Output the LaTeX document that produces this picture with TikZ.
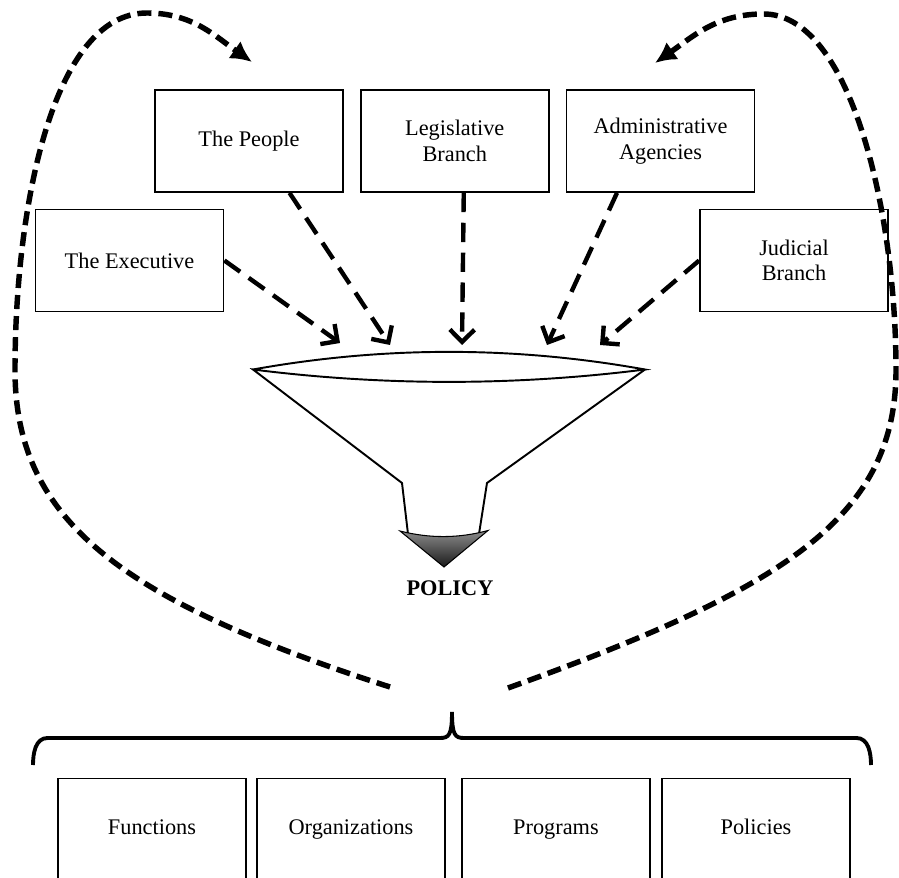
\documentclass[tikz,border=0pt]{standalone}
\usepackage{fontspec}
\setmainfont{Liberation Serif}
\usepackage{tikz}
\usetikzlibrary{positioning}
\usetikzlibrary{arrows.meta}

\begin{document}
\begin{tikzpicture}[font=\fontsize{12.7}{14.5}\selectfont]
	\tikzset{actor/.style={rectangle, draw=black, line width=1pt, minimum width=3.76cm, minimum height=2.04cm, align=center, inner sep=2pt}}
	\tikzset{outcome/.style={rectangle, draw=black, line width=0.7pt, minimum width=3.76cm, anchor=north, inner sep=0pt, text height=1.12cm, text depth=1.5cm}}
	\tikzset{feed/.style={line width=2.5pt, dash pattern=on 11pt off 6pt, -{Straight Barb[length=7pt,width=14pt]}}}
	\tikzset{loopback/.style={line width=3.1pt, dash pattern=on 8pt off 4pt, -{Latex[length=12pt,width=12pt]}}}
	\tikzset{funnel/.style={line width=1.1pt, line join=miter}}

	\useasboundingbox (0,0) rectangle (17.98,17.54);

	% the five sources
	\node[actor] (people) at (4.98,14.72) {The People};
	\node[actor, right=0.32 of people] (legis) {Legislative\\Branch};
	\node[actor, right=0.32 of legis] (admin) {Administrative\\Agencies};
	\node[actor] (exec) at (2.59,12.33) {The Executive};
	\node[actor] (judic) at (15.88,12.33) {Judicial\\Branch};

	% funnel
	\coordinate (rimL) at (5.06,10.15);
	\coordinate (rimR) at (12.90,10.15);
	\draw[funnel] (rimL) .. controls (7.67,10.62) and (10.29,10.62) .. (rimR) .. controls (10.29,9.82) and (7.67,9.82) .. (rimL) -- (8.04,7.88) -- (8.16,6.86);
	\draw[funnel] (rimR) -- (9.74,7.88) -- (9.58,6.86);
	\draw[line width=0.6pt, top color=black!45, bottom color=black!90] (8.00,6.92) .. controls (8.59,6.77) and (9.17,6.77) .. (9.76,6.93) -- (8.88,6.20) -- cycle;
	\node[font=\fontsize{12.7}{14.5}\selectfont\bfseries] (policy) at (9.00,5.78) {POLICY};

	% arrows into the funnel
	\coordinate (inE) at (6.80,10.68);
	\coordinate (inP) at (7.80,10.64);
	\coordinate (inL) at (9.24,10.64);
	\coordinate (inA) at (10.94,10.64);
	\coordinate (inJ) at (12.00,10.64);
	\draw[feed] (exec.east) -- (inE);
	\draw[feed] (people.-52) -- (inP);
	\draw[feed] ([xshift=0.18cm]legis.south) -- (inL);
	\draw[feed] (admin.230) -- (inA);
	\draw[feed] (judic.west) -- (inJ);

	% feedback loops
	\coordinate (outL) at (7.80,3.80);
	\coordinate (backL) at (5.04,16.30);
	\coordinate (outR) at (10.16,3.78);
	\coordinate (backR) at (13.10,16.28);
	\draw[loopback] (outL) .. controls (2.40,5.54) and (0.30,7.14) .. (0.30,10.14) .. controls (0.30,13.34) and (1.04,17.28) .. (2.94,17.28) to[out=0,in=145] (backL);
	\draw[loopback] (outR) .. controls (15.60,5.74) and (17.92,7.14) .. (17.92,10.14) .. controls (17.92,13.34) and (17.00,17.28) .. (15.26,17.26) to[out=180,in=35] (backR);

	% brace
	\draw[line width=2.2pt] (0.66,2.24) to[out=90,in=180] (0.95,2.78) -- (8.80,2.78) .. controls (8.98,2.78) and (9.04,2.84) .. (9.04,3.30) .. controls (9.04,2.84) and (9.10,2.78) .. (9.28,2.78) -- (17.13,2.78) to[out=0,in=90] (17.42,2.24);

	% outcomes
	\node[outcome] (functions) at (3.04,1.98) {Functions};
	\node[outcome] (orgs) at (7.02,1.98) {Organizations};
	\node[outcome] (programs) at (11.12,1.98) {Programs};
	\node[outcome] (policies) at (15.12,1.98) {Policies};
\end{tikzpicture}
\end{document}
